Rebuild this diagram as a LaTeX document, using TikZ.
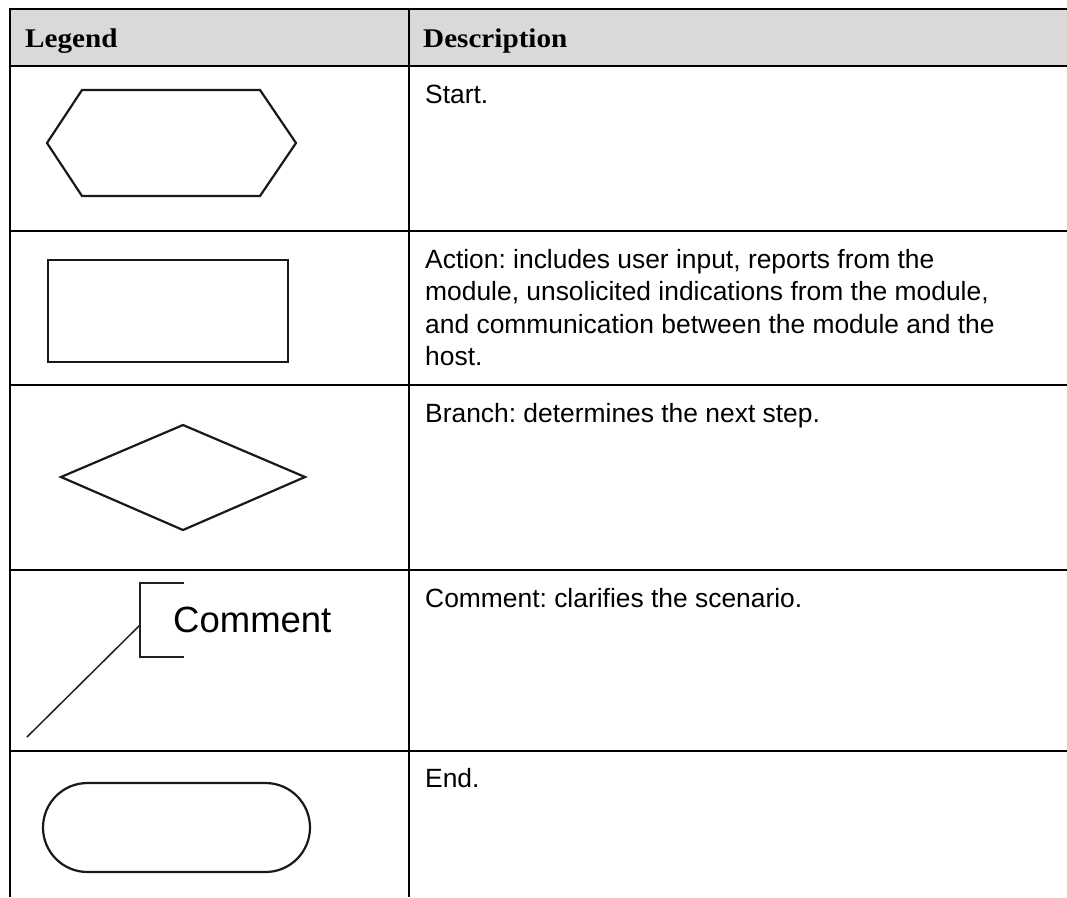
\documentclass[tikz,border=0pt]{standalone}
\usepackage{fontspec}
\setmainfont{Liberation Sans}
\newfontfamily\headfont[FakeStretch=1.08]{Liberation Serif}
\definecolor{headgray}{HTML}{D9D9D9}
\definecolor{inkdark}{HTML}{231F20}
\frenchspacing
\begin{document}
\begin{tikzpicture}[x=1pt, y=-1pt,
  rule/.style={line width=2.4pt, draw=black},
  outline/.style={line width=2.2pt, draw=black!90, line join=miter},
  callout/.style={line width=1.5pt, draw=inkdark},
  headtext/.style={font=\headfont\bfseries\fontsize{27}{32}\selectfont, anchor=base west, inner sep=0pt},
  desctext/.style={font=\frenchspacing\fontsize{26.4}{32.5}\selectfont, anchor=base west, inner sep=0pt},
  notetext/.style={font=\fontsize{36.5}{40}\selectfont, anchor=base west, inner sep=0pt}]
\useasboundingbox (0,0) rectangle (1067,897);

% header band
\fill[headgray] (10,9) rectangle (1067,66);

% table rules
\draw[rule] (10,9) -- (1067,9);
\draw[rule] (10,66) -- (1067,66);
\draw[rule] (10,231) -- (1067,231);
\draw[rule] (10,385) -- (1067,385);
\draw[rule] (10,570) -- (1067,570);
\draw[rule] (10,751) -- (1067,751);
\draw[rule] (10,7.8) -- (10,897);
\draw[rule] (409,7.8) -- (409,897);

% header
\node[headtext] (hlegend) at (25,47) {Legend};
\node[headtext] (hdesc) at (423,47) {Description};

% start symbol: hexagon
\draw[outline] (47,143) -- (82,90) -- (260,90) -- (296,143) -- (260,196) -- (82,196) -- cycle;
\node[desctext] (dstart) at (425,103) {Start.};

% action symbol: rectangle
\draw[outline] (48,260) rectangle (288,362);
\node[desctext] (daction) at (425,268) {\parbox[t]{620pt}{\raggedright
Action: includes user input, reports from the\\
module, unsolicited indications from the module,\\
and communication between the module and the\\
host.}};

% branch symbol: diamond
\draw[outline] (61,477) -- (183,425) -- (305,477) -- (183,530) -- cycle;
\node[desctext] (dbranch) at (425,422) {Branch: determines the next step.};

% comment symbol: bracket with leader line
\draw[callout] (184,583) -- (140,583) -- (140,657) -- (184,657);
\node[notetext] (cnote) at (173,632) {Comment};
\coordinate (cbrk) at (140,625);
\coordinate (ctail) at (27,737);
\draw[callout] (cbrk) -- (ctail);
\node[desctext] (dcomment) at (425,607) {Comment: clarifies the scenario.};

% end symbol: stadium
\draw[outline] (87.5,783) -- (265.5,783) arc[start angle=-90, end angle=90, radius=44.5]
  -- (87.5,872) arc[start angle=90, end angle=270, radius=44.5] -- cycle;
\node[desctext] (dend) at (425,787) {End.};
\end{tikzpicture}
\end{document}
